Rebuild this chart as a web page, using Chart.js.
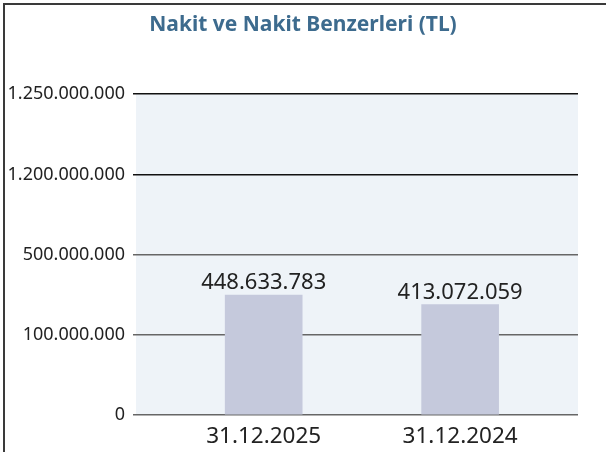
<!DOCTYPE html>
<html>
<head>
<meta charset="utf-8">
<script src="https://cdn.jsdelivr.net/npm/chart.js@4.4.1/dist/chart.umd.min.js"></script>
<style>
  html, body { margin: 0; padding: 0; background: #fff; }
  #wrap { position: relative; width: 606px; height: 452px; overflow: hidden; }
  #frame { position: absolute; left: 3px; top: 3px; right: -10px; bottom: -10px;
           border-left: 2px solid #3a3a3a; border-top: 2px solid #3a3a3a; pointer-events: none; }
  canvas { position: absolute; left: 0; top: 0; }
</style>
</head>
<body>
<div id="wrap">
  <canvas id="cash_chart" width="606" height="452"></canvas>
  <div id="frame"></div>
</div>
<script>
const chartTitle = "Nakit ve Nakit Benzerleri (TL)";
const categories = ["31.12.2025", "31.12.2024"];
const cashValues = [448633783, 413072059];
const yTickLabels = ["0", "100.000.000", "500.000.000", "1.200.000.000", "1.250.000.000"];

function formatTL(v) {
  return String(Math.round(v)).replace(/\B(?=(\d{3})+(?!\d))/g, ".");
}

const plotBackground = {
  id: "plotBackground",
  beforeDraw(chart) {
    const a = chart.chartArea;
    const ctx = chart.ctx;
    ctx.save();
    ctx.fillStyle = "#eef3f8";
    ctx.fillRect(a.left, a.top, a.right - a.left, a.bottom - a.top);
    ctx.restore();
  }
};

const barValueLabels = {
  id: "barValueLabels",
  afterDatasetsDraw(chart) {
    const ctx = chart.ctx;
    const meta = chart.getDatasetMeta(0);
    ctx.save();
    ctx.font = "22px 'Noto Sans'";
    ctx.fillStyle = "#222";
    ctx.textAlign = "center";
    ctx.textBaseline = "alphabetic";
    meta.data.forEach(function (bar, i) {
      ctx.fillText(formatTL(cashValues[i]), bar.x, bar.y - 6);
    });
    ctx.restore();
  }
};

function init() {
  const ctx = document.getElementById("cash_chart");
  new Chart(ctx, {
    type: "bar",
    data: {
      datasets: [{
        data: cashValues.map(function (v, i) { return { x: i, y: v }; }),
        backgroundColor: "#c5c9dc",
        barThickness: 77
      }]
    },
    options: {
      responsive: false,
      animation: false,
      layout: { padding: 0 },
      plugins: {
        legend: { display: false },
        tooltip: { enabled: false },
        title: {
          display: true,
          text: chartTitle,
          color: "#3d6b8e",
          font: { family: "Noto Sans", size: 21, weight: "bold" },
          padding: { top: 12, bottom: 57 }
        }
      },
      scales: {
        x: {
          type: "linear",
          offset: false,
          min: -0.65,
          max: 1.6,
          afterBuildTicks: function (scale) {
            scale.ticks = categories.map(function (c, i) { return { value: i }; });
          },
          afterFit: function (scale) { scale.height = 37; },
          grid: { display: false, drawTicks: false },
          border: { display: false },
          ticks: {
            padding: 8,
            color: "#222",
            font: { family: "Noto Sans", size: 22.5 },
            callback: function (value) { return categories[value]; }
          }
        },
        y: {
          min: 0,
          max: 1200000000,
          afterFit: function (scale) { scale.width = 136; },
          border: { display: false },
          grid: {
            tickLength: 3,
            lineWidth: 1.5,
            color: function (c) { return c.index >= 3 ? "#111" : "#666"; }
          },
          ticks: {
            stepSize: 300000000,
            padding: 8,
            color: "#222",
            font: { family: "Noto Sans", size: 18 },
            callback: function (value, index) { return yTickLabels[index]; }
          }
        },
        yRight: {
          position: "right",
          min: 0,
          max: 1,
          afterFit: function (scale) { scale.width = 28; },
          border: { display: false },
          grid: { display: false, drawTicks: false },
          ticks: { display: false }
        }
      }
    },
    plugins: [plotBackground, barValueLabels]
  });
}

window.onload = init;
</script>
</body>
</html>
